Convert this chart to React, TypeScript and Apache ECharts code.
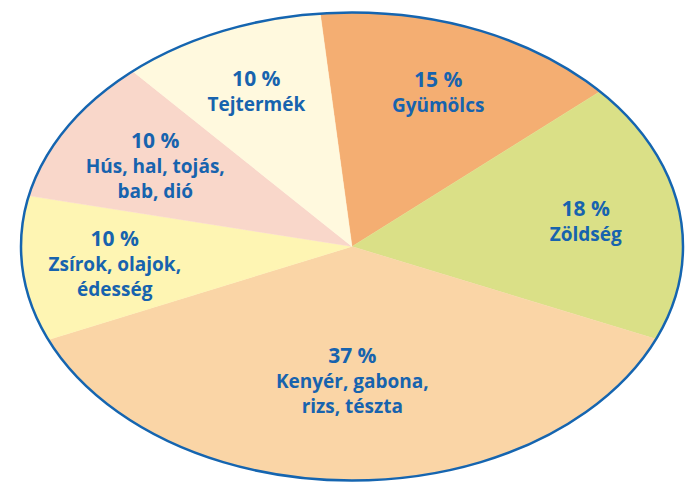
import React, { useEffect, useRef } from "react";
import * as echarts from "echarts";

const categories = ["Gyümölcs", "Zöldség", "Kenyér, gabona,\nrizs, tészta", "Zsírok, olajok,\nédesség", "Hús, hal, tojás,\nbab, dió", "Tejtermék"];
const values = [15, 18, 37, 10, 10, 10];
const colors = ["#F4AE72", "#DAE087", "#FAD5A6", "#FEF5B3", "#F9D7CA", "#FFF9DE"];
const labelRadius = [0.71, 0.715, 0.57, 0.72, 0.69, 0.725];

const CX = 352;
const CY = 246.5;
const RX = 331;
const RY = 234;
const START_DEG = -5.5; // clockwise from 12 o'clock
const TEXT_COLOR = "#1763AE";
const FONT = "'Open Sans', 'Noto Sans', sans-serif";

export default function App() {
  const ref = useRef<HTMLDivElement>(null);
  useEffect(() => {
    if (!ref.current) return;
    const chart = echarts.init(ref.current, undefined, { renderer: "svg" });
    const total = values.reduce((a, b) => a + b, 0);
    const cum: number[] = [];
    let acc = 0;
    values.forEach((v) => {
      cum.push(acc);
      acc += v;
    });
    chart.setOption({
      animation: false,
      backgroundColor: "#ffffff",
      series: [
        {
          type: "custom",
          coordinateSystem: "none",
          data: values.map((v, i) => ({ value: v, name: categories[i] })),
          renderItem: (params: any, api: any) => {
            const i = params.dataIndex;
            const v = api.value(0);
            const startDeg = START_DEG + (cum[i] / total) * 360;
            const endDeg = startDeg + (v / total) * 360;
            const toRad = (d: number) => ((d - 90) * Math.PI) / 180;
            const midDeg = (startDeg + endDeg) / 2;
            const midRad = (midDeg * Math.PI) / 180;
            const f = labelRadius[i];
            const lx = CX + f * RX * Math.sin(midRad);
            const ly = CY - f * RY * Math.cos(midRad);
            return {
              type: "group",
              children: [
                {
                  type: "sector",
                  x: CX,
                  y: CY,
                  scaleX: RX / RY,
                  scaleY: 1,
                  shape: {
                    cx: 0,
                    cy: 0,
                    r0: 0,
                    r: RY,
                    startAngle: toRad(startDeg),
                    endAngle: toRad(endDeg),
                    clockwise: true,
                  },
                  style: { fill: colors[i], stroke: colors[i], lineWidth: 0.3 },
                },
                {
                  type: "text",
                  x: lx,
                  y: ly,
                  z2: 10,
                  style: {
                    text: `{p|${v} %}\n` + categories[i].split("\n").map((s) => `{n|${s}}`).join("\n"),
                    align: "center",
                    verticalAlign: "middle",
                    fill: TEXT_COLOR,
                    fontFamily: FONT,
                    rich: {
                      p: { fontSize: 21, fontWeight: "bold", lineHeight: 27, fill: TEXT_COLOR, fontFamily: FONT, align: "center" },
                      n: { fontSize: 19, fontWeight: "bold", lineHeight: 25, fill: TEXT_COLOR, fontFamily: FONT, align: "center" },
                    },
                  },
                },
              ],
            };
          },
        },
      ],
      graphic: [
        {
          type: "ellipse",
          shape: { cx: CX, cy: CY, rx: RX, ry: RY },
          style: { fill: "none", stroke: "#1565B0", lineWidth: 2.5 },
          z: 100,
          silent: true,
        },
      ],
    });
    return () => chart.dispose();
  }, []);
  return <div ref={ref} style={{ position: "fixed", left: 0, top: 0, width: 688, height: 483 }} />;
}
